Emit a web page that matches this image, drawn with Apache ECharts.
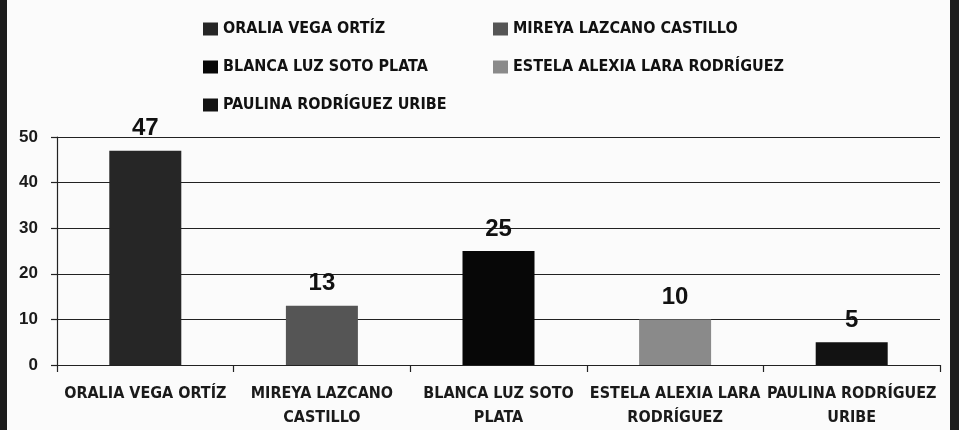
<!DOCTYPE html>
<html>
<head>
<meta charset="utf-8">
<script src="https://cdn.jsdelivr.net/npm/echarts@6/dist/echarts.min.js"></script>
<style>
html,body{margin:0;padding:0;background:#fbfbfb;}
#chart{width:959px;height:430px;}
</style>
</head>
<body>
<div id="chart"></div>
<script>
const categories = ['ORALIA VEGA ORTÍZ', 'MIREYA LAZCANO CASTILLO', 'BLANCA LUZ SOTO PLATA', 'ESTELA ALEXIA LARA RODRÍGUEZ', 'PAULINA RODRÍGUEZ URIBE'];
const xTickLabels = ['ORALIA VEGA ORTÍZ', 'MIREYA LAZCANO\nCASTILLO', 'BLANCA LUZ SOTO\nPLATA', 'ESTELA ALEXIA LARA\nRODRÍGUEZ', 'PAULINA RODRÍGUEZ\nURIBE'];
const values = [47, 13, 25, 10, 5];
const yTicks = [0, 10, 20, 30, 40, 50];
const colors = ['#262626', '#555555', '#070707', '#8a8a8a', '#121212'];

const FONT = '"Liberation Sans Narrow", "DejaVu Sans Condensed", sans-serif';
const chart = echarts.init(document.getElementById('chart'), null, {renderer: 'canvas'});

const series = categories.map((name, i) => ({
  name: name,
  type: 'bar',
  stack: 'one',
  barWidth: 72,
  itemStyle: {color: colors[i]},
  data: values.map((v, j) => (j === i ? v : '-')),
  label: {
    show: true,
    position: 'top',
    distance: 10,
    color: '#111',
    fontFamily: '"Liberation Sans", sans-serif',
    fontWeight: 'bold',
    fontSize: 24
  }
}));

const legendText = {color: '#111', fontFamily: FONT, fontWeight: 'bold', fontSize: 16, lineHeight: 18};

chart.setOption({
  backgroundColor: '#fbfbfb',
  animation: false,
  legend: [
    {
      data: [categories[0], categories[2], categories[4]],
      orient: 'vertical', left: 198, top: 15,
      itemWidth: 15, itemHeight: 13, itemGap: 20, icon: 'rect',
      textStyle: legendText
    },
    {
      data: [categories[1], categories[3]],
      orient: 'vertical', left: 488, top: 15,
      itemWidth: 15, itemHeight: 13, itemGap: 20, icon: 'rect',
      textStyle: legendText
    }
  ],
  grid: {left: 57, right: 19, top: 137, bottom: 63, containLabel: false},
  xAxis: {
    type: 'category',
    data: xTickLabels,
    boundaryGap: true,
    axisLine: {show: true, lineStyle: {color: '#222', width: 1.2}},
    axisTick: {show: true, length: 7, interval: 0, lineStyle: {color: '#222', width: 1.2}},
    axisLabel: {
      interval: 0, margin: 17, color: '#1a1a1a',
      fontFamily: FONT, fontWeight: 'bold', fontSize: 16, lineHeight: 24
    },
    splitLine: {show: false}
  },
  yAxis: {
    type: 'value',
    min: yTicks[0], max: yTicks[yTicks.length - 1], interval: 10,
    axisLine: {show: true, lineStyle: {color: '#222', width: 1.2}},
    axisTick: {show: true, length: 6, lineStyle: {color: '#222', width: 1.2}},
    axisLabel: {
      margin: 19, color: '#1a1a1a',
      fontFamily: '"Liberation Sans", sans-serif', fontWeight: 'bold', fontSize: 17
    },
    splitLine: {show: true, lineStyle: {color: '#222', width: 1.2}}
  },
  graphic: [
    {type: 'rect', left: 0, top: 0, shape: {width: 7, height: 430}, style: {fill: '#1c1c1c'}, silent: true},
    {type: 'rect', left: 950, top: 0, shape: {width: 9, height: 430}, style: {fill: '#1c1c1c'}, silent: true}
  ],
  series: series
});
</script>
</body>
</html>
